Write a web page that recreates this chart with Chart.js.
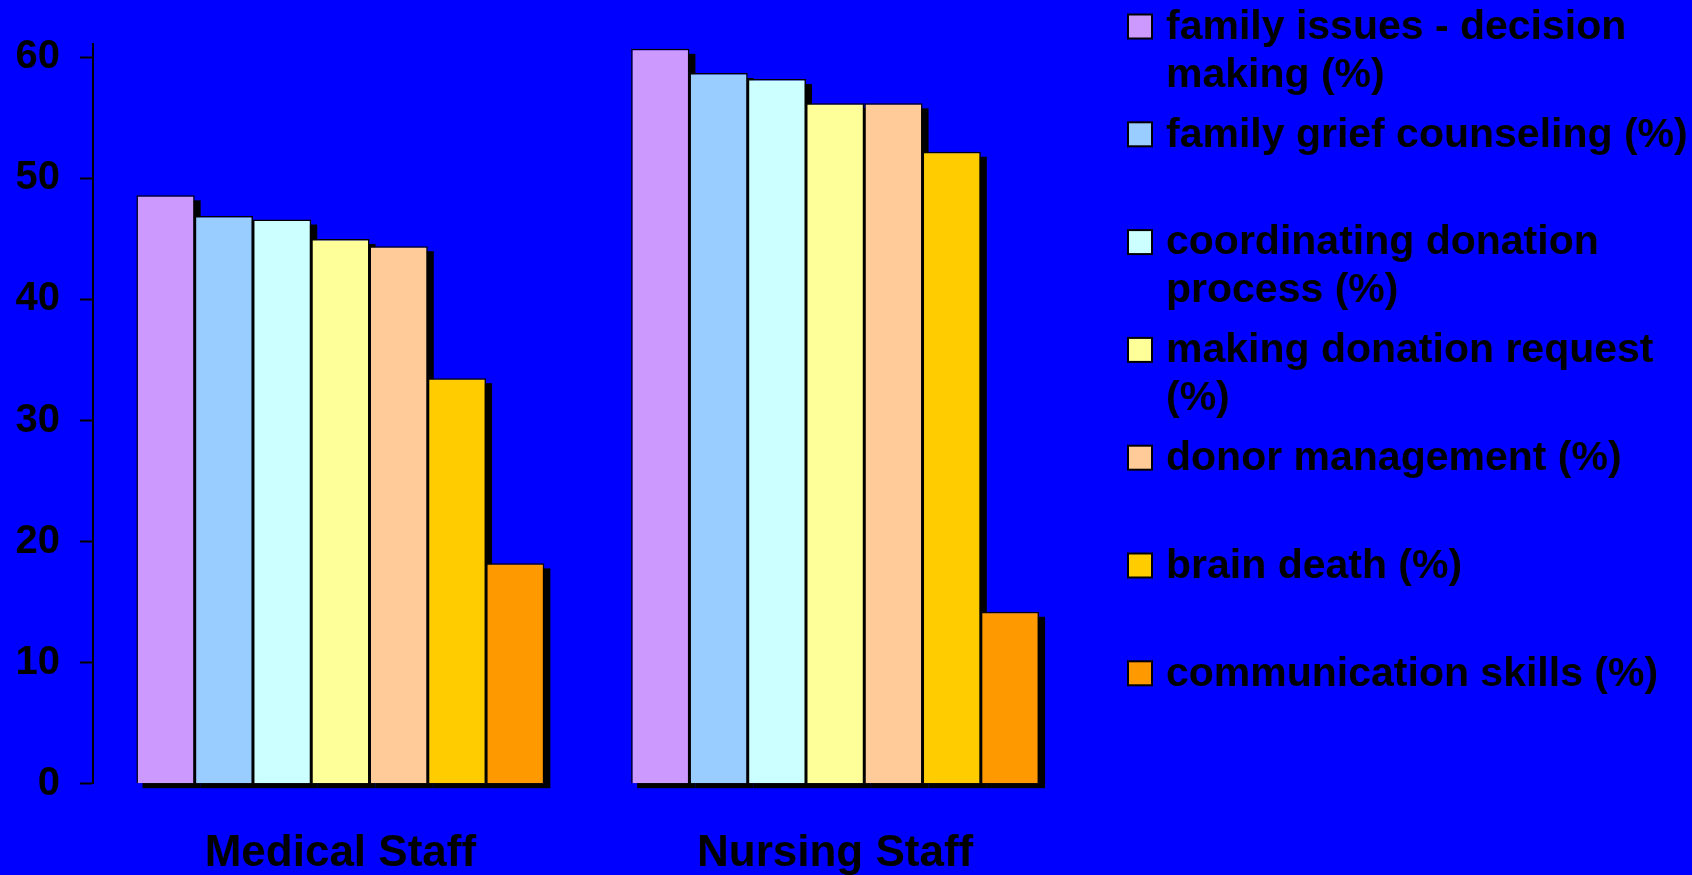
<!DOCTYPE html>
<html>
<head>
<meta charset="utf-8">
<script src="https://cdn.jsdelivr.net/npm/chart.js@4/dist/chart.umd.min.js"></script>
<style>
  html, body { margin: 0; padding: 0; background: #0000ff; overflow: hidden; }
  #wrap { width: 1692px; height: 875px; }
</style>
</head>
<body>
<div id="wrap"><canvas id="chart"></canvas></div>
<script>
// categories and series
const categories = ["Medical Staff", "Nursing Staff"];
const seriesLabels = [
  ["family issues - decision", "making (%)"],
  ["family grief counseling (%)"],
  ["coordinating donation", "process (%)"],
  ["making donation request", "(%)"],
  ["donor management (%)"],
  ["brain death (%)"],
  ["communication skills (%)"]
];
const familyIssues = [48.6, 60.7];
const griefCounseling = [46.9, 58.7];
const coordinating = [46.6, 58.2];
const donationRequest = [45.0, 56.2];
const donorManagement = [44.4, 56.2];
const brainDeath = [33.5, 52.2];
const communication = [18.2, 14.2];
const yTicks = [0, 10, 20, 30, 40, 50, 60];

const colors = ["#cc99ff", "#99ccff", "#ccffff", "#ffff99", "#ffcc99", "#ffcc00", "#ff9900"];
const seriesValues = [familyIssues, griefCounseling, coordinating, donationRequest,
  donorManagement, brainDeath, communication];

const FONT = "'Liberation Sans', Arial, sans-serif";

// black drop shadow behind every bar
const barShadow = {
  id: "barShadow",
  beforeDatasetsDraw(chart) {
    const ctx = chart.ctx;
    ctx.save();
    ctx.fillStyle = "#000";
    chart.data.datasets.forEach((ds, i) => {
      chart.getDatasetMeta(i).data.forEach(bar => {
        const w = bar.width;
        ctx.fillRect(bar.x - w / 2 + 6, bar.y + 5, w, bar.base - bar.y);
      });
    });
    ctx.restore();
  }
};

// legend on the right with wrapped labels
const sideLegend = {
  id: "sideLegend",
  afterDraw(chart) {
    const ctx = chart.ctx;
    ctx.save();
    ctx.font = "bold 41px " + FONT;
    ctx.textBaseline = "middle";
    ctx.textAlign = "left";
    chart.data.datasets.forEach((ds, i) => {
      const cy = 26.5 + i * 107.8;
      ctx.fillStyle = ds.backgroundColor;
      ctx.fillRect(1128, cy - 12, 24, 24);
      ctx.strokeStyle = "#000";
      ctx.lineWidth = 2;
      ctx.strokeRect(1128, cy - 12, 24, 24);
      ctx.fillStyle = "#000";
      seriesLabels[i].forEach((line, j) => {
        ctx.fillText(line, 1166, cy + 1 + j * 47.7);
      });
    });
    ctx.restore();
  }
};

new Chart(document.getElementById("chart"), {
  type: "bar",
  data: {
    labels: categories,
    datasets: seriesValues.map((vals, i) => ({
      label: seriesLabels[i].join(" "),
      data: vals,
      backgroundColor: colors[i],
      borderColor: "#000",
      borderWidth: 1.5,
      barPercentage: 1,
      categoryPercentage: 0.8245
    }))
  },
  options: {
    responsive: true,
    maintainAspectRatio: false,
    animation: false,
    layout: { padding: { top: 40, right: 609.5, left: 0, bottom: 0 } },
    plugins: {
      legend: { display: false },
      tooltip: { enabled: false }
    },
    scales: {
      x: {
        grid: { display: false },
        border: { display: false },
        ticks: {
          color: "#000",
          padding: 36,
          font: { family: FONT, size: 44, weight: "bold" }
        },
        afterFit(scale) { scale.height = 91.3; }
      },
      y: {
        min: 0,
        max: 61.1,
        afterBuildTicks(scale) { scale.ticks = yTicks.map(v => ({ value: v })); },
        grid: {
          drawOnChartArea: false,
          drawTicks: true,
          tickLength: 13,
          tickColor: "#000",
          tickWidth: 2
        },
        border: { display: true, color: "#000", width: 2 },
        ticks: {
          color: "#000",
          padding: 20,
          font: { family: FONT, size: 40, weight: "bold" }
        },
        afterFit(scale) { scale.width = 93; }
      }
    }
  },
  plugins: [barShadow, sideLegend]
});
</script>
</body>
</html>
